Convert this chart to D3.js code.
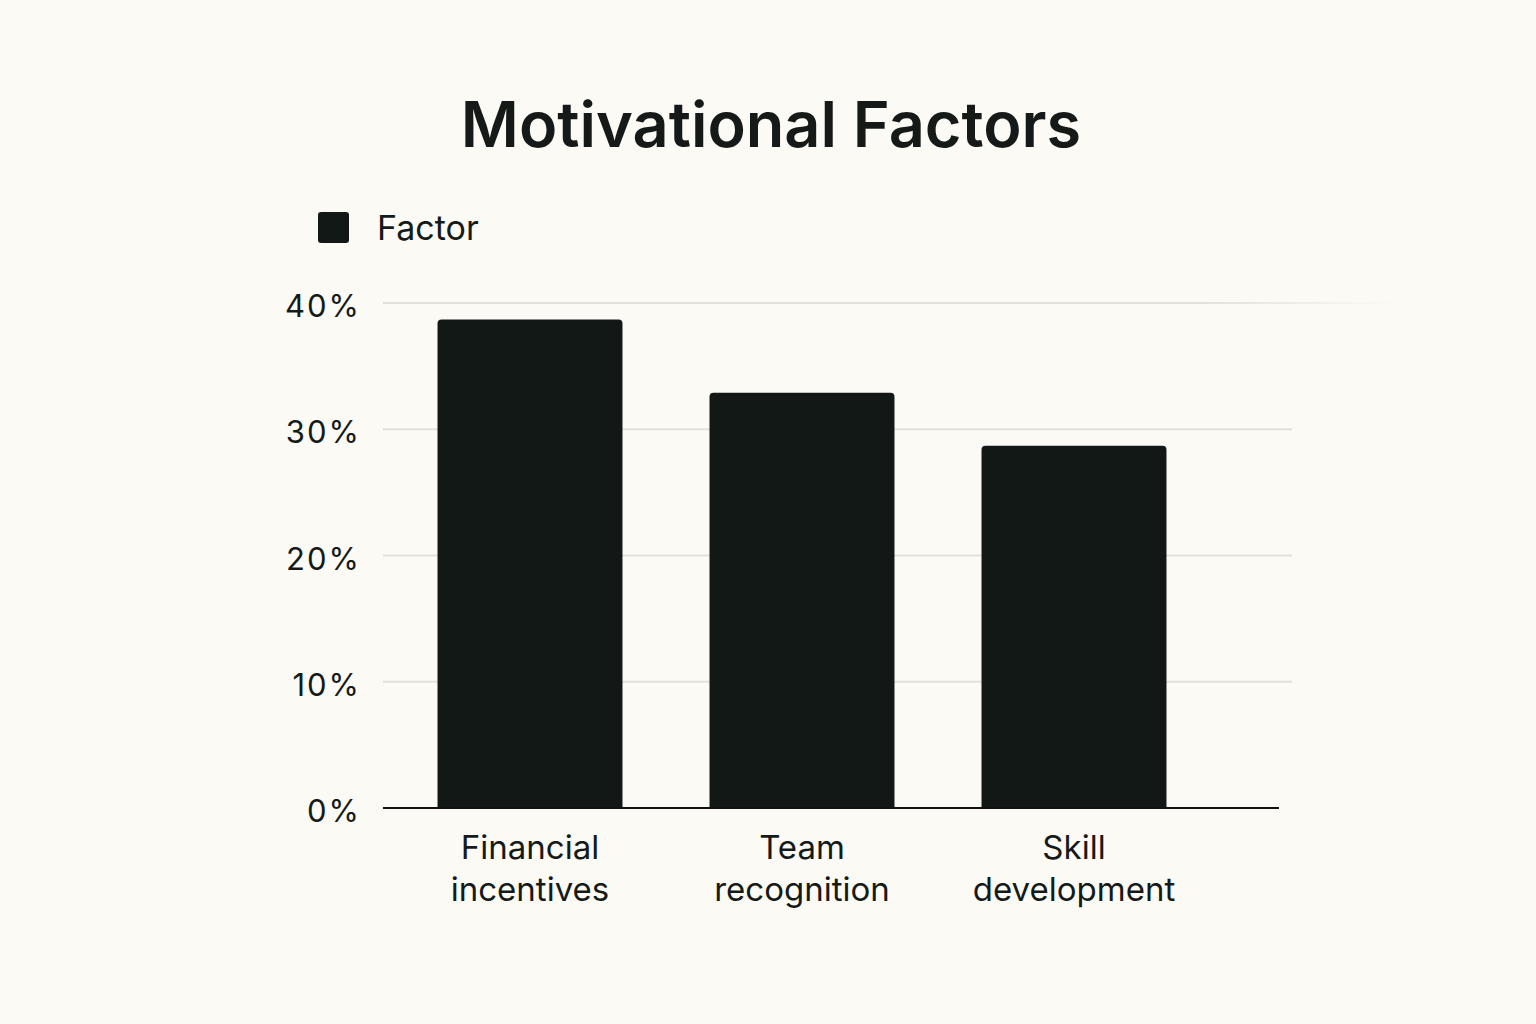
<!DOCTYPE html>
<html>
<head>
<meta charset="utf-8">
<script src="https://cdn.jsdelivr.net/npm/d3@7"></script>
<style>
  html, body { margin: 0; padding: 0; background: #fbfaf5; }
  text { font-family: Inter, "Noto Sans", sans-serif; fill: #151a19; }
</style>
</head>
<body>
<div id="chart"></div>
<script>
// Chart data
const categories = [["Financial", "incentives"], ["Team", "recognition"], ["Skill", "development"]];
const values = [38.7, 32.9, 28.7];
const yTicks = [0, 10, 20, 30, 40];
const seriesName = "Factor";
const chartTitle = "Motivational Factors";

const width = 1536, height = 1024;
const barColor = "#121816";

const svg = d3.select("#chart").append("svg")
  .attr("width", width)
  .attr("height", height);

svg.append("rect").attr("width", width).attr("height", height).attr("fill", "#fbfaf5");

// fading gradient for the top gridline
const grad = svg.append("defs").append("linearGradient")
  .attr("id", "fade").attr("gradientUnits", "userSpaceOnUse")
  .attr("x1", 383).attr("x2", 1400).attr("y1", 0).attr("y2", 0);
grad.append("stop").attr("offset", "0.8").attr("stop-color", "#e2e0da");
grad.append("stop").attr("offset", "1").attr("stop-color", "#e2e0da").attr("stop-opacity", 0);

// Scales
const x = d3.scaleBand()
  .domain(d3.range(categories.length))
  .range([394, 1210])
  .paddingInner(0.32)
  .paddingOuter(0.16);

const y = d3.scaleLinear()
  .domain([0, 40])
  .range([808, 303]);

// Gridlines
svg.append("g").selectAll("line")
  .data(yTicks.filter(d => d > 0))
  .join("line")
  .attr("x1", 383)
  .attr("x2", d => d === 40 ? 1400 : 1292)
  .attr("y1", d => y(d))
  .attr("y2", d => y(d))
  .attr("stroke", d => d === 40 ? "url(#fade)" : "#e2e0da")
  .attr("stroke-width", 2);

// Y axis labels
svg.append("g").selectAll("text")
  .data(yTicks)
  .join("text")
  .attr("x", 361)
  .attr("y", d => y(d) + 14)
  .attr("text-anchor", "end")
  .style("font-size", "31px")
  .style("letter-spacing", "2px")
  .text(d => d + "%");

// Bars with rounded top corners
const r = 4;
svg.append("g").selectAll("path")
  .data(values)
  .join("path")
  .attr("fill", barColor)
  .attr("d", (d, i) => {
    const x0 = x(i), w = x.bandwidth(), y0 = y(d), y1 = y(0);
    return `M${x0},${y1} V${y0 + r} Q${x0},${y0} ${x0 + r},${y0} H${x0 + w - r} Q${x0 + w},${y0} ${x0 + w},${y0 + r} V${y1} Z`;
  });

// Baseline
svg.append("line")
  .attr("x1", 383).attr("x2", 1279)
  .attr("y1", y(0)).attr("y2", y(0))
  .attr("stroke", "#111")
  .attr("stroke-width", 2);

// X labels
const xl = svg.append("g").selectAll("text")
  .data(categories)
  .join("text")
  .attr("x", (d, i) => x(i) + x.bandwidth() / 2)
  .attr("y", 859)
  .attr("text-anchor", "middle")
  .style("font-size", "33px");
xl.selectAll("tspan")
  .data(d => d)
  .join("tspan")
  .attr("x", function() { return d3.select(this.parentNode).attr("x"); })
  .attr("dy", (d, j) => j === 0 ? 0 : 42)
  .text(d => d);

// Legend
svg.append("rect")
  .attr("x", 318).attr("y", 212)
  .attr("width", 31).attr("height", 31)
  .attr("rx", 3)
  .attr("fill", barColor);
svg.append("text")
  .attr("x", 377).attr("y", 240)
  .style("font-size", "34px")
  .text(seriesName);

// Title
svg.append("text")
  .attr("x", 771).attr("y", 147)
  .attr("text-anchor", "middle")
  .style("font-size", "63px")
  .style("font-weight", 600)
  .text(chartTitle);
</script>
</body>
</html>
